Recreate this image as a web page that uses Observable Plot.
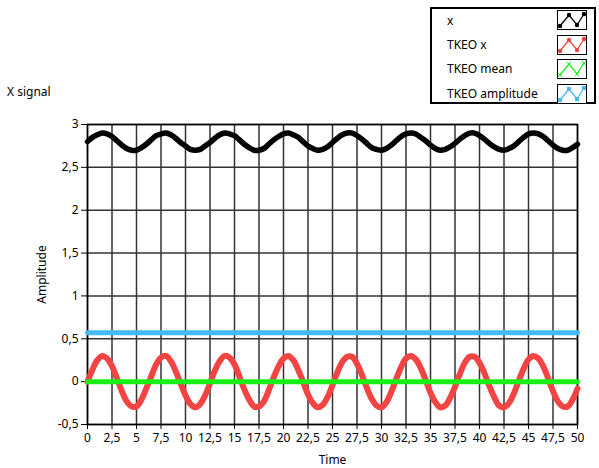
<!DOCTYPE html>
<html>
<head>
<meta charset="utf-8">
<script src="https://cdn.jsdelivr.net/npm/d3@7"></script>
<script src="https://cdn.jsdelivr.net/npm/@observablehq/plot@0.6"></script>
<style>
  html, body { margin: 0; padding: 0; background: #fff; }
  body { font-family: "Noto Sans", sans-serif; font-size: 12px; color: #000; }
  #wrap { position: relative; width: 599px; height: 468px; overflow: hidden; }
  #chart { position: absolute; left: 0; top: 0; }
  #title { position: absolute; left: 7px; top: 83px; font-size: 12px; }
  #legend { position: absolute; left: 430px; top: 7px; width: 162px; height: 93px;
            border: 2px solid #000; background: #fff; }
  .row { position: absolute; left: 15px; font-size: 12px; line-height: 16px; }
  .icon { position: absolute; left: 125px; width: 28px; height: 18px; border: 1px solid #000; background: #fff; }
</style>
</head>
<body>
<div id="wrap">
  <div id="chart"></div>
  <div id="title">X signal</div>
  <div id="legend"></div>
</div>
<script>
// ---- data ----
const time = [0,0.5,1,1.5,2,2.5,3,3.5,4,4.5,5,5.5,6,6.5,7,7.5,8,8.5,9,9.5,10,10.5,11,11.5,12,12.5,13,13.5,14,14.5,15,15.5,16,16.5,17,17.5,18,18.5,19,19.5,20,20.5,21,21.5,22,22.5,23,23.5,24,24.5,25,25.5,26,26.5,27,27.5,28,28.5,29,29.5,30,30.5,31,31.5,32,32.5,33,33.5,34,34.5,35,35.5,36,36.5,37,37.5,38,38.5,39,39.5,40,40.5,41,41.5,42,42.5,43,43.5,44,44.5,45,45.5,46,46.5,47,47.5,48,48.5,49,49.5,50];
const xSignal = [2.80,2.85,2.88,2.90,2.89,2.86,2.81,2.76,2.72,2.70,2.70,2.73,2.77,2.82,2.87,2.89,2.90,2.88,2.84,2.79,2.75,2.71,2.70,2.71,2.75,2.79,2.84,2.88,2.90,2.89,2.87,2.82,2.77,2.73,2.70,2.70,2.72,2.77,2.82,2.86,2.89,2.90,2.88,2.85,2.80,2.75,2.72,2.70,2.71,2.74,2.79,2.84,2.88,2.90,2.90,2.87,2.83,2.78,2.73,2.71,2.70,2.72,2.76,2.81,2.86,2.89,2.90,2.89,2.85,2.81,2.76,2.72,2.70,2.71,2.74,2.78,2.83,2.87,2.90,2.90,2.87,2.83,2.78,2.74,2.71,2.70,2.72,2.75,2.80,2.85,2.89,2.90,2.89,2.86,2.81,2.76,2.72,2.70,2.70,2.73,2.77];
const tkeoX = [0,0.14,0.25,0.30,0.27,0.18,0.04,-0.11,-0.23,-0.29,-0.29,-0.21,-0.08,0.06,0.20,0.28,0.30,0.24,0.12,-0.02,-0.16,-0.26,-0.30,-0.26,-0.16,-0.02,0.13,0.24,0.30,0.28,0.20,0.06,-0.09,-0.21,-0.29,-0.29,-0.23,-0.10,0.05,0.18,0.27,0.30,0.25,0.14,0.00,-0.15,-0.25,-0.30,-0.27,-0.18,-0.04,0.11,0.23,0.29,0.29,0.21,0.08,-0.07,-0.20,-0.28,-0.30,-0.24,-0.12,0.03,0.17,0.27,0.30,0.26,0.16,0.02,-0.13,-0.24,-0.30,-0.28,-0.19,-0.06,0.09,0.22,0.29,0.29,0.22,0.10,-0.05,-0.18,-0.28,-0.30,-0.25,-0.14,0.01,0.15,0.26,0.30,0.27,0.18,0.04,-0.11,-0.23,-0.29,-0.29,-0.21,-0.08];
const constTime = [0, 50];
const tkeoMean = [0, 0];
const tkeoAmplitude = [0.57, 0.57];
const xTicks = [0,2.5,5,7.5,10,12.5,15,17.5,20,22.5,25,27.5,30,32.5,35,37.5,40,42.5,45,47.5,50];
const yTicks = [-0.5,0,0.5,1,1.5,2,2.5,3];
const seriesNames = ["x", "TKEO x", "TKEO mean", "TKEO amplitude"];
const seriesColors = ["#000000", "#f34444", "#16f016", "#45baf2"];

// ---- build tables ----
const fmt = d => String(d).replace(".", ",");
const xData = time.map((t, i) => ({t, v: xSignal[i]}));
const redData = time.map((t, i) => ({t, v: tkeoX[i]}));
const meanData = constTime.map((t, i) => ({t, v: tkeoMean[i]}));
const ampData = constTime.map((t, i) => ({t, v: tkeoAmplitude[i]}));

const chart = Plot.plot({
  width: 599,
  height: 468,
  marginLeft: 87,
  marginRight: 22,
  marginTop: 124,
  marginBottom: 44,
  style: { fontFamily: "'Noto Sans', sans-serif", fontSize: "12px", background: "transparent", color: "#000" },
  x: { domain: [0, 50] },
  y: { domain: [-0.5, 3] },
  marks: [
    Plot.gridX(xTicks, { stroke: "#333", strokeOpacity: 1, strokeWidth: 1.5 }),
    Plot.gridY(yTicks, { stroke: "#333", strokeOpacity: 1, strokeWidth: 1.5 }),
    Plot.frame({ stroke: "#000", strokeWidth: 1.5 }),
    Plot.axisX(xTicks, { tickFormat: fmt, tickSize: 5, tickPadding: 4, label: "Time", labelAnchor: "center", labelOffset: 39, labelArrow: "none" }),
    Plot.axisY(yTicks, { tickFormat: fmt, tickSize: 6, tickPadding: 3, label: "Amplitude", labelAnchor: "center", labelOffset: 50, labelArrow: "none" }),
    Plot.line(xData, { x: "t", y: "v", stroke: seriesColors[0], strokeWidth: 5.5, curve: "catmull-rom" }),
    Plot.line(redData, { x: "t", y: "v", stroke: seriesColors[1], strokeWidth: 6, curve: "catmull-rom" }),
    Plot.line(meanData, { x: "t", y: "v", stroke: seriesColors[2], strokeWidth: 5 }),
    Plot.line(ampData, { x: "t", y: "v", stroke: seriesColors[3], strokeWidth: 5 })
  ]
});
document.getElementById("chart").appendChild(chart);

// ---- legend ----
const legend = document.getElementById("legend");
const rowTops = [4, 28, 52, 77];
const iconTops = [1, 26, 50, 75];
const pts = [[2, 15], [11, 4], [19, 14], [26, 3]];
seriesNames.forEach((name, i) => {
  const r = document.createElement("div");
  r.className = "row";
  r.style.top = rowTops[i] + "px";
  r.textContent = name;
  legend.appendChild(r);
  const ic = document.createElementNS("http://www.w3.org/2000/svg", "svg");
  ic.setAttribute("class", "icon");
  ic.setAttribute("width", 28); ic.setAttribute("height", 18);
  ic.style.top = iconTops[i] + "px";
  const c = seriesColors[i];
  let s = `<polyline points="${pts.map(p => p.join(",")).join(" ")}" fill="none" stroke="${c}" stroke-width="1.3"/>`;
  pts.forEach(([px, py]) => {
    if (i < 2) s += `<circle cx="${px}" cy="${py}" r="2.2" fill="${c}"/>`;
    else if (i === 2) s += `<path d="M${px-2},${py-2}L${px+2},${py+2}M${px+2},${py-2}L${px-2},${py+2}" stroke="${c}" stroke-width="1"/>`;
    else s += `<rect x="${px-2}" y="${py-2}" width="4" height="4" fill="${c}"/>`;
  });
  ic.innerHTML = s;
  legend.appendChild(ic);
});
</script>
</body>
</html>
